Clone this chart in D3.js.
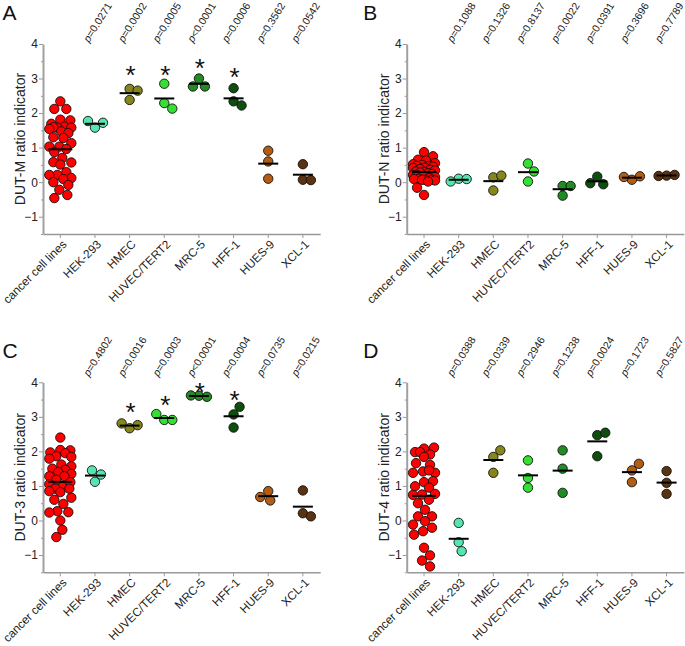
<!DOCTYPE html>
<html><head><meta charset="utf-8">
<script src="https://cdn.jsdelivr.net/npm/d3@7/dist/d3.min.js"></script>
<style>body{margin:0;background:#fff}svg text{font-family:"Liberation Sans",Arial,sans-serif}</style>
</head><body><svg id="c" width="685" height="646"></svg>
<script>
const categories = ["cancer cell lines","HEK-293","HMEC","HUVEC/TERT2","MRC-5","HFF-1","HUES-9","XCL-1"];
const groupColors = ["#ff0000","#55e6b0","#86861a","#33e033","#238b23","#0d4f0d","#b35c14","#5c3310"];
const yMajorTicks = [-1,0,1,2,3,4];
const yMinorTicks = [-1.5,-0.5,0.5,1.5,2.5,3.5];

// Panel A: DUT-M
const valuesA = [
  [2.34,2.12,2.12,1.81,1.79,1.69,1.61,1.58,1.58,1.59,1.54,1.47,1.42,1.30,1.28,1.13,1.03,1.03,0.96,0.87,0.70,0.58,0.57,0.51,0.29,0.21,0.21,0.12,0.09,0.00,-0.08,-0.22,-0.37,-0.46],
  [1.58,1.72,1.77],
  [2.70,2.38,2.65],
  [2.85,2.29,2.13],
  [3.00,2.77,2.77],
  [2.34,2.72,2.22],
  [0.91,0.60,0.10],
  [0.52,0.07,0.06]
];
const pA = ["=0.0271","=0.0002","=0.0005","<0.0001","=0.0006","=0.3562","=0.0542"];
const starsA = [null,null,3.28,3.28,3.48,3.23,null,null];

// Panel B: DUT-N
const valuesB = [
  [0.87,0.75,0.65,0.63,0.55,0.52,0.50,0.47,0.47,0.45,0.42,0.41,0.38,0.36,0.34,0.31,0.30,0.28,0.26,0.24,0.21,0.21,0.18,0.15,0.12,0.10,0.09,0.07,0.07,0.07,0.05,0.02,-0.16,-0.37],
  [0.10,0.09,0.02],
  [-0.24,0.14,0.19],
  [0.02,0.54,0.31],
  [-0.11,-0.39,-0.11],
  [0.16,-0.06,-0.03],
  [0.07,0.17,0.15],
  [0.19,0.21,0.18]
];
const pB = ["=0.1088","=0.1326","=0.8137","=0.0022","=0.0391","=0.3696","=0.7789"];
const starsB = [null,null,null,null,null,null,null,null];

// Panel C: DUT-3
const valuesC = [
  [2.40,2.04,2.03,1.97,1.95,1.86,1.84,1.79,1.62,1.57,1.50,1.47,1.40,1.35,1.28,1.28,1.18,1.11,1.05,0.97,0.92,0.92,0.85,0.82,0.66,0.60,0.48,0.27,0.24,0.23,0.00,-0.27,-0.48],
  [1.12,1.33,1.45],
  [2.67,2.76,2.81],
  [2.91,2.91,3.08],
  [3.61,3.58,3.62],
  [3.07,3.29,2.69],
  [0.85,0.58,0.68],
  [0.87,0.21,0.12]
];
const pC = ["=0.4802","=0.0016","=0.0003","<0.0001","=0.0004","=0.0735","=0.0215"];
const starsC = [null,null,3.31,3.51,3.89,3.66,null,null];

// Panel D: DUT-4
const valuesD = [
  [2.08,2.11,1.98,1.91,1.98,1.84,1.66,1.61,1.42,1.38,1.38,1.45,1.11,1.14,0.99,0.95,0.75,0.77,0.74,0.60,0.50,0.31,0.12,0.12,-0.02,-0.12,-0.21,-0.31,-0.41,-0.79,-1.01,-1.16,-1.33],
  [-0.07,-0.63,-0.89],
  [1.38,1.84,2.03],
  [1.23,1.74,0.95],
  [2.03,1.50,0.80],
  [2.47,2.54,1.86],
  [1.45,1.64,1.11],
  [0.77,1.09,1.43]
];
const pD = ["=0.0388","=0.0339","=0.2946","=0.1238","=0.0024","=0.1723","=0.5827"];
const starsD = [null,null,null,null,null,null,null,null];

const panels = [
  {letter:"A", label:"DUT-M ratio indicator", values:valuesA, p:pA, stars:starsA, col:0, row:0},
  {letter:"B", label:"DUT-N ratio indicator", values:valuesB, p:pB, stars:starsB, col:1, row:0},
  {letter:"C", label:"DUT-3 ratio indicator", values:valuesC, p:pC, stars:starsC, col:0, row:1},
  {letter:"D", label:"DUT-4 ratio indicator", values:valuesD, p:pD, stars:starsD, col:1, row:1}
];

const svg = d3.select("#c");
const colLeft = [43, 406.7], plotW = 277.2;
const rowTop = [44, 382.3], plotH = 190;
const pLabelY = [43, 377];
const R = 4.7;

function swarm(vals, cx, y, W){
  const placed = [];
  return vals.map(v => {
    const py = y(v);
    let best = 0, bestD = -1;
    for (let k = 0; k <= 2*W; k++){
      const off = (k % 2 ? 1 : -1) * Math.ceil(k/2);
      let md = Infinity;
      for (const p of placed) md = Math.min(md, Math.hypot(p[0]-(cx+off), p[1]-py));
      if (md >= 2*R) { best = off; break; }
      if (md > bestD) { bestD = md; best = off; }
    }
    const pt = [cx+best, py];
    placed.push(pt);
    return pt;
  });
}

panels.forEach(P => {
  const left = colLeft[P.col], top = rowTop[P.row];
  const x = d3.scaleBand().domain(categories).range([left, left+plotW]);
  const y = d3.scaleLinear().domain([-1.5, 4]).range([top+plotH, top]);
  const g = svg.append("g");

  const yMinor = g.append("g").attr("transform",`translate(${left},0)`)
    .call(d3.axisLeft(y).tickValues(yMinorTicks).tickSize(2).tickSizeOuter(0).tickFormat(""));
  yMinor.select(".domain").remove();
  yMinor.selectAll("line").attr("stroke","#999");
  const yAx = g.append("g").attr("transform",`translate(${left},0)`)
    .call(d3.axisLeft(y).tickValues(yMajorTicks).tickSize(4).tickSizeOuter(0).tickPadding(1).tickFormat(d3.format("d")));
  yAx.select(".domain").attr("stroke","#a0a0a0").attr("stroke-width",2);
  yAx.selectAll("line").attr("stroke","#999");
  yAx.selectAll("text").attr("font-size",12).attr("fill","#222");

  const xAx = g.append("g").attr("transform",`translate(0,${top+plotH})`)
    .call(d3.axisBottom(x).tickSize(4).tickSizeOuter(0).tickFormat(""));
  xAx.select(".domain").attr("stroke","#999").attr("stroke-width",1.5);
  xAx.selectAll("line").attr("stroke","#999");

  categories.forEach(c => {
    const cx = x(c) + x.bandwidth()/2;
    g.append("text").attr("transform",`translate(${cx+7},${top+plotH+11}) rotate(-45)`)
      .attr("text-anchor","end").attr("font-size",11.8).attr("fill","#222").text(c);
  });

  g.append("text").attr("transform",`translate(${left-18},${top+plotH/2}) rotate(-90)`)
    .attr("text-anchor","middle").attr("font-size",14).attr("fill","#222").text(P.label);

  g.append("text").attr("x", left - (P.col ? 43.5 : 40.5)).attr("y", top-24.5)
    .attr("font-size",21).attr("fill","#111").text(P.letter);

  P.p.forEach((s,i) => {
    const cx = x(categories[i+1]) + x.bandwidth()/2;
    const t = g.append("text").attr("transform",`translate(${cx-6},${pLabelY[P.row]}) rotate(-58)`)
      .attr("font-size",10.5).attr("fill","#222");
    t.append("tspan").attr("font-style","italic").text("p");
    t.append("tspan").text(s);
  });

  P.values.forEach((vals,i) => {
    const c = categories[i];
    const cx = x(c) + x.bandwidth()/2;
    const pts = swarm(vals, cx, y, i===0 ? 11 : 8);
    g.append("g").selectAll("circle").data(pts).join("circle")
      .attr("cx", d=>d[0]).attr("cy", d=>d[1]).attr("r", R)
      .attr("fill", groupColors[i]).attr("stroke","#111").attr("stroke-width",0.9);
    const m = d3.mean(vals);
    const hw = i===0 ? 12 : 10;
    g.append("line").attr("x1",cx-hw).attr("x2",cx+hw).attr("y1",y(m)).attr("y2",y(m))
      .attr("stroke","#000").attr("stroke-width",2);
    if (P.stars[i] != null) {
      g.append("text").attr("x",cx+1).attr("y",y(P.stars[i])+15).attr("text-anchor","middle")
        .attr("font-size",26).attr("fill","#111").text("*");
    }
  });
});
</script></body></html>
